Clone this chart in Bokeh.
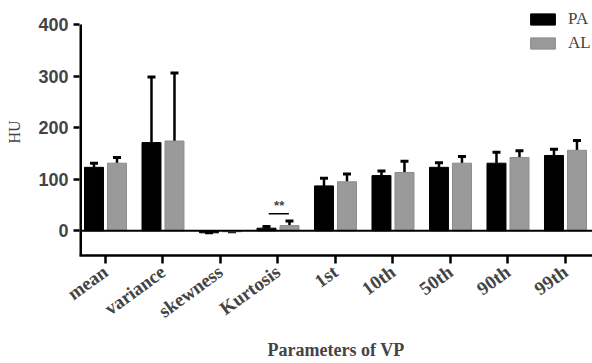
from bokeh.plotting import figure
from bokeh.models import (ColumnDataSource, Range1d, FixedTicker, Whisker, TeeHead,
                          Span, Legend, LegendItem, Label)
from bokeh.transform import dodge
from bokeh.embed import file_html
from bokeh.resources import INLINE

categories = ["mean", "variance", "skewness", "Kurtosis", "1st", "10th", "50th", "90th", "99th"]
pa_values = [123, 171, -4, 5, 87, 107, 123, 131, 146]
pa_upper = [131, 298, -4, 8, 102, 116, 132, 152, 158]
al_values = [131, 174, -2, 10, 95, 113, 131, 142, 156]
al_upper = [142, 306, -2, 19, 110, 135, 144, 155, 175]
series_names = ["PA", "AL"]
y_ticks = [0, 100, 200, 300, 400]
sig_label = "**"
sig_category = "Kurtosis"

xs = list(range(len(categories)))
src = ColumnDataSource(dict(x=xs, pa=pa_values, pa_up=pa_upper, al=al_values, al_up=al_upper))

Y_MIN, Y_TOP_TICK, Y_MAX = -48, 400, 431
X_MIN, X_MAX = -0.452, 8.47

p = figure(width=592, height=363, output_backend="svg", toolbar_location=None,
           x_range=Range1d(X_MIN, X_MAX), y_range=Range1d(Y_MIN, Y_MAX),
           min_border_left=79, min_border_right=0, min_border_top=8, min_border_bottom=108)
p.outline_line_color = None
p.xgrid.visible = False
p.ygrid.visible = False

OFF = 0.2
W = 0.33
r_pa = p.vbar(x=dodge("x", -OFF), top="pa", bottom=0, width=W, source=src,
              fill_color="#000000", line_color="#000000")
r_al = p.vbar(x=dodge("x", OFF), top="al", bottom=0, width=W, source=src,
              fill_color="#9a9a9a", line_color="#8c8c8c")

for off, lo, up in ((-OFF, "pa", "pa_up"), (OFF, "al", "al_up")):
    w = Whisker(base=dodge("x", off), lower=lo, upper=up, source=src, dimension="height",
                line_color="black", line_width=2.5,
                upper_head=TeeHead(size=8, line_width=3, line_color="black"),
                lower_head=None)
    p.add_layout(w)

p.add_layout(Span(location=0, dimension="width", line_color="black", line_width=2))

# left axis line stops at the top tick
p.segment(x0=[X_MIN], x1=[X_MIN], y0=[Y_MIN], y1=[Y_TOP_TICK], line_color="black", line_width=5)

# significance bracket
k = categories.index(sig_category)
sig_y = max(pa_upper[k], al_upper[k]) + 14
p.segment(x0=[k - 0.16], x1=[k + 0.19], y0=[sig_y], y1=[sig_y], line_color="black", line_width=1.5)
p.add_layout(Label(x=k + 0.02, y=sig_y + 2, text=sig_label, text_align="center",
                   text_font="Liberation Sans", text_font_size="13px", text_font_style="bold"))

# axes
p.yaxis.ticker = FixedTicker(ticks=y_ticks)
p.yaxis.axis_line_color = None
p.yaxis.minor_tick_line_color = None
p.yaxis.major_tick_out = 6
p.yaxis.major_tick_in = 0
p.yaxis.major_tick_line_width = 2.5
p.yaxis.major_label_text_font = "Liberation Sans"
p.yaxis.major_label_text_font_style = "bold"
p.yaxis.major_label_text_font_size = "18px"
p.yaxis.major_label_standoff = 5
p.yaxis.axis_label = "HU"
p.yaxis.axis_label_text_font = "Liberation Serif"
p.yaxis.axis_label_text_font_style = "normal"
p.yaxis.axis_label_text_font_size = "16px"
p.yaxis.axis_label_standoff = 12

p.xaxis.ticker = FixedTicker(ticks=xs)
p.xaxis.major_label_overrides = {i: c for i, c in enumerate(categories)}
p.xaxis.minor_tick_line_color = None
p.xaxis.major_tick_out = 8
p.xaxis.major_tick_in = 0
p.xaxis.axis_line_width = 2.5
p.xaxis.major_tick_line_width = 2.5
p.xaxis.major_label_orientation = 0.63
p.xaxis.major_label_text_font = "Liberation Serif"
p.xaxis.major_label_text_font_style = "bold"
p.xaxis.major_label_text_font_size = "19px"
p.xaxis.major_label_standoff = 6
p.xaxis.axis_label = "Parameters of VP"
p.xaxis.axis_label_text_font = "Liberation Serif"
p.xaxis.axis_label_text_font_style = "bold"
p.xaxis.axis_label_text_font_size = "18px"
p.xaxis.axis_label_standoff = 7

legend = Legend(items=[LegendItem(label=series_names[0], renderers=[r_pa]),
                       LegendItem(label=series_names[1], renderers=[r_al])],
                location=(448, 202), glyph_width=31, glyph_height=14, label_height=14,
                label_standoff=10, spacing=4, padding=0, margin=0,
                border_line_alpha=0, background_fill_alpha=0,
                label_text_font="Liberation Serif", label_text_font_size="17px")
p.add_layout(legend)

open("out.html", "w").write(file_html(p, INLINE))
